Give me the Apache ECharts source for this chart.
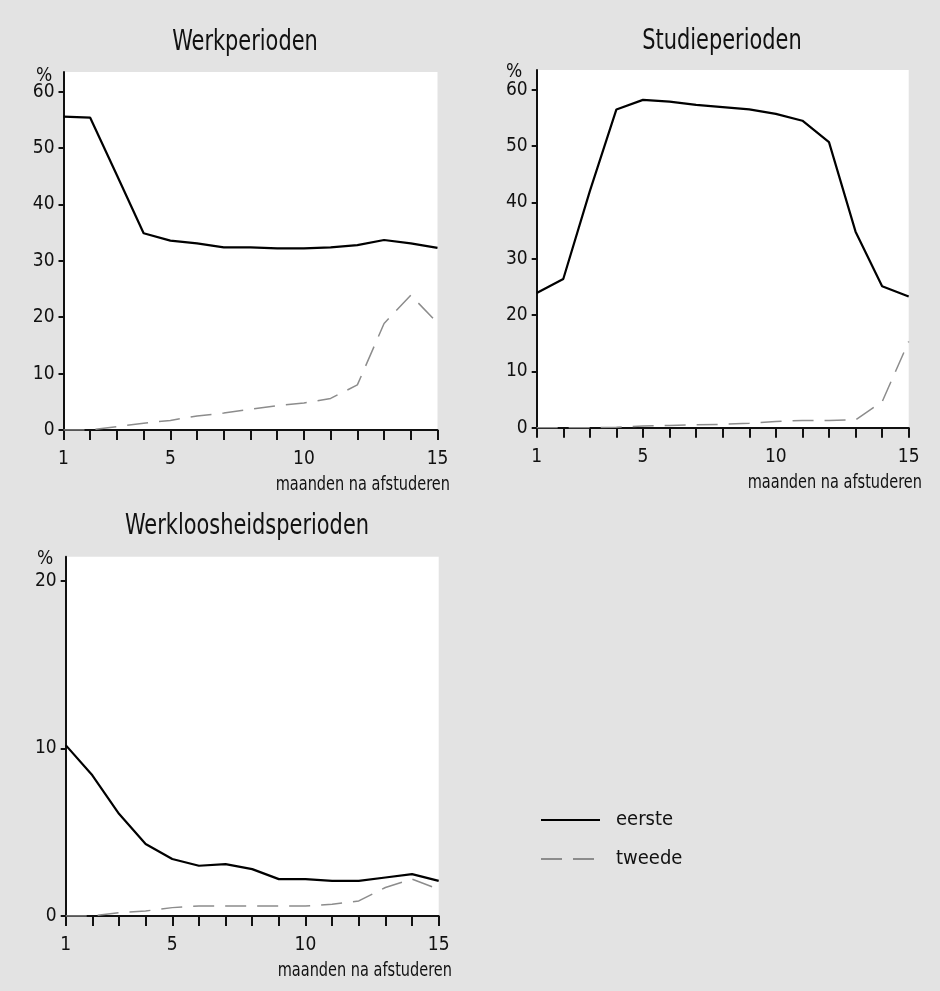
<!DOCTYPE html>
<html>
<head>
<meta charset="utf-8">
<script src="https://cdn.jsdelivr.net/npm/echarts@6/dist/echarts.min.js"></script>
<style>
html,body{margin:0;padding:0;background:#e3e3e3;}
#chart{width:940px;height:991px;}
</style>
</head>
<body>
<div id="chart"></div>
<script>
const months = [1,2,3,4,5,6,7,8,9,10,11,12,13,14,15];
const xTickLabels = [1,5,10,15];
const yTicksPct60 = [0,10,20,30,40,50,60];
const yTicksPct20 = [0,10,20];
const seriesNames = ['eerste','tweede'];
const panelTitles = ['Werkperioden','Studieperioden','Werkloosheidsperioden'];
const xAxisName = 'maanden na afstuderen';
const yAxisName = '%';

const werkEerste   = [55.6,55.4,45.2,34.9,33.6,33.1,32.4,32.4,32.2,32.2,32.4,32.8,33.7,33.1,32.3];
const werkTweede   = [0,0,0.6,1.2,1.7,2.5,3.0,3.7,4.3,4.8,5.6,8.0,18.9,23.9,19.0];
const studieEerste = [23.9,26.4,42.0,56.5,58.2,57.9,57.3,56.9,56.5,55.7,54.5,50.7,34.8,25.1,23.3];
const studieTweede = [0,0,0,0.1,0.3,0.4,0.5,0.6,0.8,1.1,1.3,1.3,1.4,4.6,15.3];
const werklEerste  = [10.2,8.4,6.1,4.3,3.4,3.0,3.1,2.8,2.2,2.2,2.1,2.1,2.3,2.5,2.1];
const werklTweede  = [0,0,0.2,0.3,0.5,0.6,0.6,0.6,0.6,0.6,0.7,0.9,1.7,2.2,1.6];

const FONT = "'Liberation Sans Narrow','DejaVu Sans Condensed','Arial Narrow',sans-serif";
const INK = '#111';

const grids = [
  {left:63.5, top:72, width:374, height:358},
  {left:536.7, top:70, width:372, height:357.7},
  {left:65.7, top:556.7, width:373, height:359.3}
];
const yMax = [63.5, 63.5, 21.45];
const yTicks = [yTicksPct60, yTicksPct60, yTicksPct20];
const panelData = [[werkEerste, werkTweede],[studieEerste, studieTweede],[werklEerste, werklTweede]];

function pairs(vals){ return months.map((m,i)=>[m, vals[i]]); }
function txt(text, x, y, size, align, sx){
  return {type:'text', x:x, y:y, scaleX:sx, scaleY:1,
    style:{text:text, font:size+'px '+FONT, fill:INK, align:align, verticalAlign:'middle'}};
}

const option = {
  animation:false,
  backgroundColor:'#e3e3e3',
  textStyle:{fontFamily:FONT, color:INK},
  grid: grids.map(g=>Object.assign({show:true, backgroundColor:'#ffffff', borderWidth:0, containLabel:false, outerBoundsMode:'none'}, g)),
  xAxis: grids.map((g,i)=>({
    type:'value', gridIndex:i, min:1, max:15,
    axisLine:{show:true, onZero:false, lineStyle:{color:INK, width:2}},
    axisTick:{show:true, inside:false, length:10, customValues:months, lineStyle:{color:INK, width:2}},
    axisLabel:{show:true, customValues:xTickLabels, margin:20, fontSize:19, color:INK, fontFamily:FONT},
    splitLine:{show:false}
  })),
  yAxis: grids.map((g,i)=>({
    type:'value', gridIndex:i, min:0, max:yMax[i],
    axisLine:{show:true, onZero:false, lineStyle:{color:INK, width:2}},
    axisTick:{show:true, length:5, customValues:yTicks[i], lineStyle:{color:INK, width:2}},
    axisLabel:{show:true, customValues:yTicks[i], margin:9, fontSize:19, color:INK, fontFamily:FONT},
    splitLine:{show:false}
  })),
  legend:{
    data:seriesNames, orient:'vertical', left:540, top:810, padding:0,
    itemWidth:59, itemHeight:14, itemGap:19,
    itemStyle:{opacity:0},
    textStyle:{fontFamily:FONT, fontSize:20, color:INK, padding:[0,0,0,11]}
  },
  graphic:[
    txt(panelTitles[0], 245, 43, 28, 'center', 0.83),
    txt(panelTitles[1], 722, 42, 28, 'center', 0.83),
    txt(panelTitles[2], 247, 527, 28, 'center', 0.83),
    txt(yAxisName, 44, 76, 19, 'center', 1),
    txt(yAxisName, 514, 72, 19, 'center', 1),
    txt(yAxisName, 45, 559, 19, 'center', 1),
    txt(xAxisName, 450, 485, 19, 'right', 0.85),
    txt(xAxisName, 922, 483, 19, 'right', 0.85),
    txt(xAxisName, 452, 971, 19, 'right', 0.85)
  ],
  series: []
};

panelData.forEach((pd,i)=>{
  option.series.push({
    name:seriesNames[0], type:'line', xAxisIndex:i, yAxisIndex:i,
    data:pairs(pd[0]), symbol:'none', showSymbol:false, z:3,
    lineStyle:{color:'#000', width:2.2, type:'solid'}, itemStyle:{color:'#000'}
  });
  option.series.push({
    name:seriesNames[1], type:'line', xAxisIndex:i, yAxisIndex:i,
    data:pairs(pd[1]), symbol:'none', showSymbol:false, z:2,
    lineStyle:{color:'#8c8c8c', width:1.5, type:[21,11]}, itemStyle:{color:'#8c8c8c'}
  });
});

const chart = echarts.init(document.getElementById('chart'), null, {renderer:'canvas'});
chart.setOption(option);
</script>
</body>
</html>
